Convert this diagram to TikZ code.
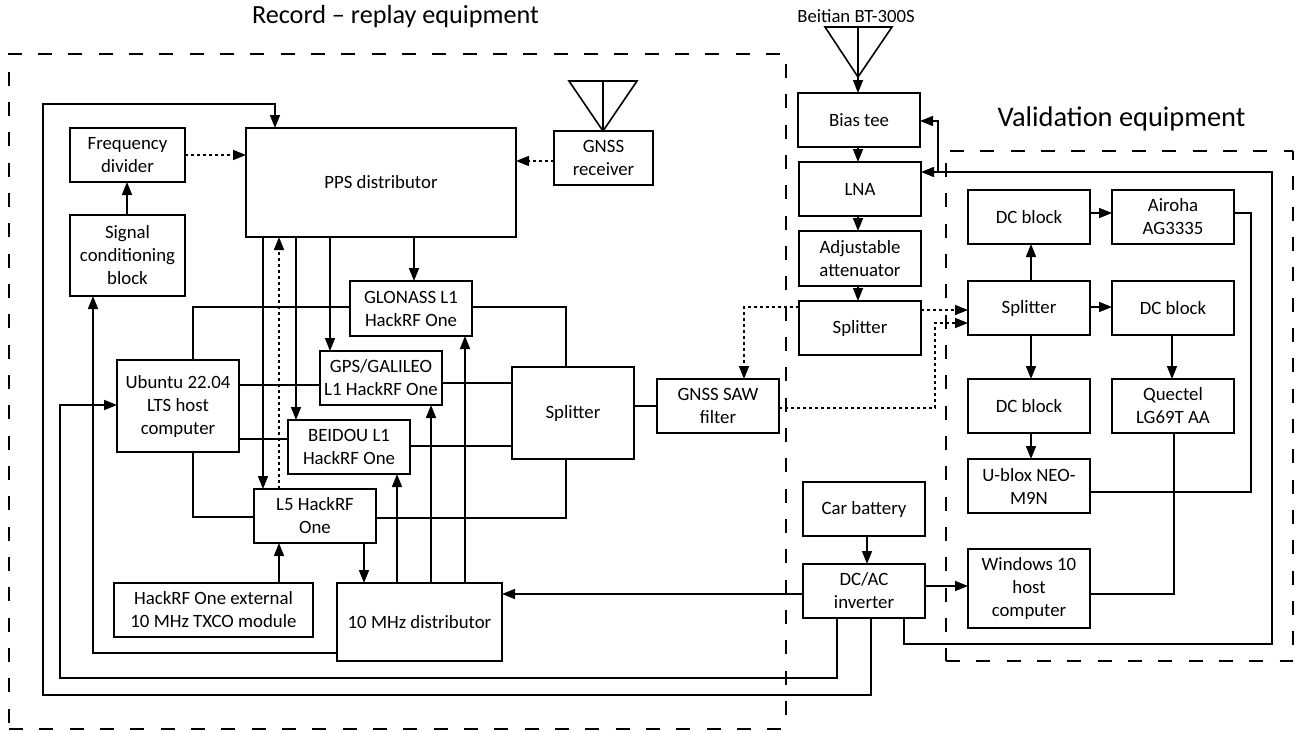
\documentclass[tikz,border=0pt]{standalone}
\usepackage{fontspec}
\setmainfont{Carlito}
\usetikzlibrary{arrows.meta,calc}
\tikzset{
  boxn/.style={draw=black,line width=1.6pt,fill=white,rectangle,inner sep=0pt,outer sep=0pt,align=center,font=\fontsize{18.8}{23}\selectfont},
  wire/.style={line width=1.6pt,draw=black},
  arr/.style={wire,-{Triangle[length=13pt,width=10pt]}},
  dot/.style={line width=1.6pt,draw=black,dash pattern=on 3pt off 3pt},
  darr/.style={dot,-{Triangle[length=13pt,width=10pt,fill=black]}},
  frame/.style={line width=1.6pt,draw=black,dash pattern=on 14pt off 16.33pt},
  lab/.style={inner sep=0pt,outer sep=0pt,text=black}
}
\newcommand{\bx}[6]{\node[boxn,minimum width={(#4-#2)*1pt},minimum height={(#5-#3)*1pt}] (#1) at ({(#2+#4)/2},{(#3+#5)/2}) {#6};}
\begin{document}
\begin{tikzpicture}[x=1pt,y=-1pt]
\useasboundingbox (0,0) rectangle (1309,731);
\fill[white] (0,0) rectangle (1309,731);
% frames
\draw[frame] (780,54) -- (9,54) -- (9,725);
\draw[frame] (9,729) -- (782,729);
\draw[frame] (786,64) -- (786,717);
\draw[frame] (950,151) -- (1293,151);
\draw[frame,dash phase=5pt] (1293,151) -- (1293,645);
\draw[frame] (946,163) -- (946,661);
\draw[frame] (946,661) -- (1293,661);
% titles
\node[lab,font=\fontsize{26.2}{30}\selectfont] (t1) at (395.5,17) {Record – replay equipment};
\node[lab,font=\fontsize{28.4}{32}\selectfont] (t2) at (1121.5,119) {Validation equipment};
\node[lab,font=\fontsize{18.7}{22}\selectfont] (t3) at (856,16) {Beitian BT-300S};
% boxes
\bx{freq}{70}{128}{185}{182}{Frequency\\divider}
\bx{sig}{70}{215}{185}{296}{Signal\\conditioning\\block}
\bx{pps}{246}{128}{516}{237}{PPS distributor}
\bx{rx}{554}{131}{653}{185}{GNSS\\receiver}
\bx{glo}{350}{281}{472}{336}{GLONASS L1\\HackRF One}
\bx{gps}{320}{351}{442}{405}{GPS/GALILEO\\L1 HackRF One}
\bx{ubu}{117}{360}{239}{452}{Ubuntu 22.04\\LTS host\\computer}
\bx{bei}{288}{420}{410}{474}{BEIDOU L1\\HackRF One}
\bx{lfive}{254}{489}{376}{543}{L5 HackRF\\One}
\bx{txco}{114}{583}{313}{637}{HackRF One external\\10 MHz TXCO module}
\bx{ten}{337}{583}{502}{661}{10 MHz distributor}
\bx{spa}{512}{367}{634}{459}{Splitter}
\bx{saw}{657}{379}{779}{433}{GNSS SAW\\filter}
\bx{spb}{799}{301}{921}{355}{Splitter}
\bx{bias}{798}{93}{920}{147}{Bias tee}
\bx{lna}{799}{162}{921}{216}{LNA}
\bx{att}{799}{231}{921}{286}{Adjustable\\attenuator}
\bx{spc}{968}{281}{1090}{335}{Splitter}
\bx{dca}{968}{190}{1090}{244}{DC block}
\bx{air}{1112}{190}{1234}{244}{Airoha\\AG3335}
\bx{dcb}{1112}{281}{1234}{335}{DC block}
\bx{dcc}{968}{379}{1090}{433}{DC block}
\bx{que}{1112}{379}{1234}{433}{Quectel\\LG69T AA}
\bx{ubx}{968}{459}{1090}{513}{U-blox NEO-\\M9N}
\bx{win}{968}{549}{1090}{628}{Windows 10\\host\\computer}
\bx{car}{803}{482}{925}{536}{Car battery}
\bx{inv}{803}{564}{925}{618}{DC/AC\\inverter}
% antennas
\coordinate (ana) at (603,131);
\coordinate (anb) at (858,77);
\draw[wire,line join=miter] (569,81) -- (637,81) -- (rx.north -| ana) -- cycle;
\draw[wire] (603,81) -- (rx.north -| ana);
\draw[wire,line join=miter] (825,27) -- (892,27) -- (anb) -- cycle;
\draw[wire] (858,27) -- (anb);
\draw[arr] (anb) -- (bias.north -| anb);
% connectors
\draw[arr] (inv.south -| 871,0) -- (871,695) -- (43,695) -- (43,104) -- (275,104) -- (pps.north -| 275,0);
\draw[arr] (inv.south -| 837,0) -- (837,678) -- (60,678) -- (60,405) -- (ubu.west |- 0,405);
\draw[arr] (ten.west |- 0,653) -- (93,653) -- (sig.south -| 93,0);
\draw[arr] (sig.north -| 127,0) -- (freq.south -| 127,0);
\draw[darr] (freq.east |- 0,155) -- (pps.west |- 0,155);
\draw[darr] (rx.west |- 0,161) -- (pps.east |- 0,161);
\draw[arr] (pps.south -| 263,0) -- (lfive.north -| 263,0);
\draw[darr] (lfive.north -| 279,0) -- (pps.south -| 279,0);
\draw[arr] (pps.south -| 296,0) -- (bei.north -| 296,0);
\draw[arr] (pps.south -| 330,0) -- (gps.north -| 330,0);
\draw[arr] (pps.south -| 414,0) -- (glo.north -| 414,0);
\draw[wire] (ubu.north -| 193,0) -- (193,307) -- (glo.west |- 0,307);
\draw[wire] (glo.east |- 0,307) -- (566,307) -- (spa.north -| 566,0);
\draw[wire] (ubu.east |- 0,385) -- (gps.west |- 0,385);
\draw[wire] (gps.east |- 0,383) -- (spa.west |- 0,383);
\draw[wire] (ubu.east |- 0,439) -- (bei.west |- 0,439);
\draw[wire] (bei.east |- 0,446) -- (spa.west |- 0,446);
\draw[wire] (ubu.south -| 193,0) -- (193,517) -- (lfive.west |- 0,517);
\draw[wire] (lfive.east |- 0,518) -- (566,518) -- (spa.south -| 566,0);
\draw[arr] (lfive.south -| 364,0) -- (ten.north -| 364,0);
\draw[arr] (txco.north -| 279,0) -- (lfive.south -| 279,0);
\draw[arr] (ten.north -| 397,0) -- (bei.south -| 397,0);
\draw[arr] (ten.north -| 431,0) -- (gps.south -| 431,0);
\draw[arr] (ten.north -| 465,0) -- (glo.south -| 465,0);
\draw[wire] (spa.east |- 0,406) -- (saw.west |- 0,406);
\draw[darr] (spb.west |- 0,307) -- (744,307) -- (saw.north -| 744,0);
\draw[darr] (spb.east |- 0,310) -- (spc.west |- 0,310);
\draw[darr] (saw.east |- 0,408) -- (935,408) -- (935,323) -- (spc.west |- 0,323);
\draw[arr] (bias.south -| 858,0) -- (lna.north -| 858,0);
\draw[arr] (lna.south -| 858,0) -- (att.north -| 858,0);
\draw[arr] (att.south -| 858,0) -- (spb.north -| 858,0);
\coordinate (br) at (938,172);
\draw[arr] (inv.south -| 904,0) -- (904,644) -- (1272,644) -- (1272,172) -- (lna.east |- 0,172);
\draw[arr] (br) -- (938,121) -- (bias.east |- 0,121);
\draw[arr] (dca.east |- 0,213) -- (air.west |- 0,213);
\draw[wire] (air.east |- 0,213) -- (1251,213) -- (1251,492) -- (ubx.east |- 0,492);
\draw[wire] (que.south -| 1174,0) -- (1174,594) -- (win.east |- 0,594);
\draw[arr] (spc.north -| 1031,0) -- (dca.south -| 1031,0);
\draw[arr] (spc.east |- 0,307) -- (dcb.west |- 0,307);
\draw[arr] (dcb.south -| 1172,0) -- (que.north -| 1172,0);
\draw[arr] (spc.south -| 1031,0) -- (dcc.north -| 1031,0);
\draw[arr] (dcc.south -| 1031,0) -- (ubx.north -| 1031,0);
\draw[arr] (car.south -| 867,0) -- (inv.north -| 867,0);
\draw[arr] (inv.east |- 0,586) -- (win.west |- 0,586);
\draw[arr] (inv.west |- 0,594) -- (ten.east |- 0,594);
\end{tikzpicture}
\end{document}
